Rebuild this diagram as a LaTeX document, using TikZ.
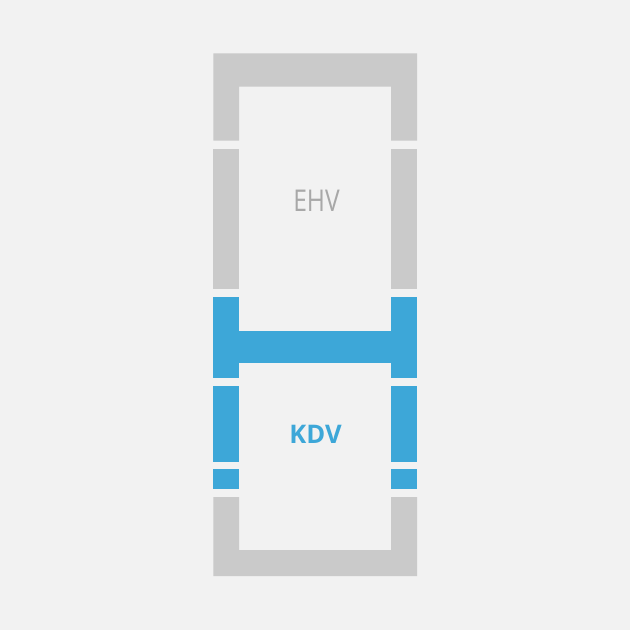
\documentclass[tikz,border=0pt]{standalone}
\usepackage{fontspec}
\setmainfont{Open Sans}
\definecolor{bg}{HTML}{F2F2F2}
\definecolor{framegray}{HTML}{CACACA}
\definecolor{kdvblue}{HTML}{3DA7D8}
\definecolor{txtgray}{HTML}{A8A8A8}
\begin{document}
\begin{tikzpicture}[x=1pt,y=-1pt,
  graypart/.style={fill=framegray,draw=none},
  bluepart/.style={fill=kdvblue,draw=none},
  lbl/.style={inner sep=0pt,anchor=base}]
\fill[bg] (0,0) rectangle (630,630);
\useasboundingbox (0,0) rectangle (630,630);
% upper gray frame (EHV)
\fill[graypart] (213.3,53.3) -- (417,53.3) -- (417,140.7) -- (391,140.7) -- (391,86.7) -- (239,86.7) -- (239,140.7) -- (213.3,140.7) -- cycle;
\fill[graypart] (213.3,149) rectangle (239,289);
\fill[graypart] (391,149) rectangle (417,289);
% blue KDV flashing
\fill[bluepart] (213.3,297.3) rectangle (239,377.7);
\fill[bluepart] (391,297.3) rectangle (417,377.7);
\fill[bluepart] (239,330.7) rectangle (391,363.3);
\fill[bluepart] (213.3,386) rectangle (239,461.7);
\fill[bluepart] (391,386) rectangle (417,461.7);
\fill[bluepart] (213.3,469.3) rectangle (239,489.3);
\fill[bluepart] (391,469.3) rectangle (417,489.3);
% lower gray frame
\fill[graypart] (213.3,497) -- (239,497) -- (239,550) -- (391,550) -- (391,497) -- (417,497) -- (417,576) -- (213.3,576) -- cycle;
% labels
\node[lbl,text=txtgray,font=\fontsize{30}{30}\selectfont] (ehv) at (316.5,211.7) {\scalebox{0.82}[1]{EHV}};
\node[lbl,text=kdvblue,font=\fontsize{25.6}{26}\selectfont\bfseries] (kdv) at (315.5,443) {KDV};
\end{tikzpicture}
\end{document}
